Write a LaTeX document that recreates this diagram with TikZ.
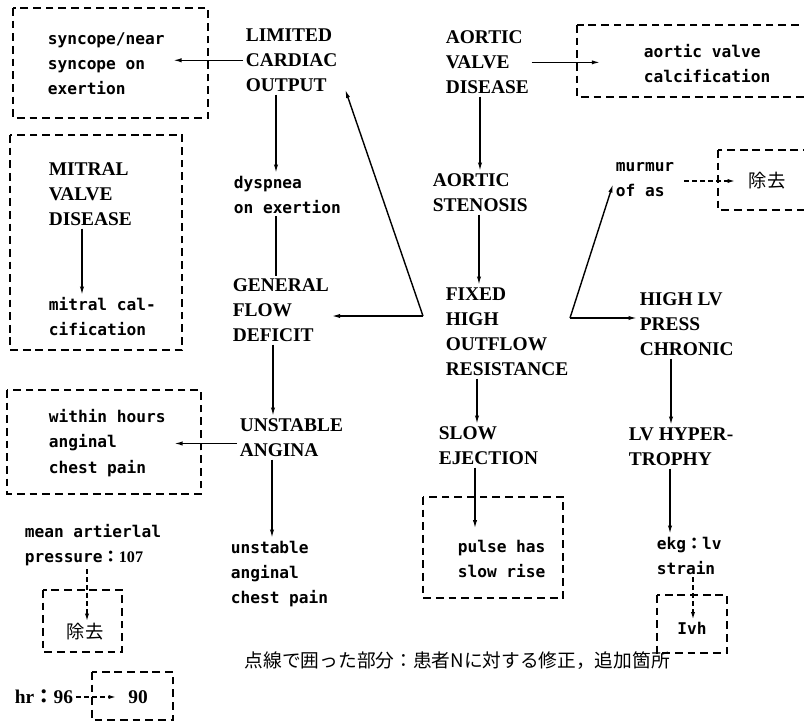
\documentclass[tikz,border=0pt]{standalone}
\usepackage{fontspec}
\usetikzlibrary{arrows.meta}
\newfontfamily\capfont{Liberation Serif}
\newfontfamily\notefont{DejaVu Sans Mono}
\newfontfamily\jpfont{Noto Sans CJK JP}
\tikzset{
  mainterm/.style={font=\capfont\bfseries\fontsize{13.8}{17.8}\selectfont, align=left, anchor=north west, inner sep=0pt, outer sep=2pt},
  finding/.style={font=\notefont\bfseries\fontsize{11.5}{17.8}\selectfont, align=left, anchor=north west, inner sep=0pt, outer sep=2pt},
  jptext/.style={font=\jpfont\fontsize{13}{16}\selectfont, inner sep=0pt, outer sep=2pt},
  fixbox/.style={line width=1.2pt, dash pattern=on 5.5pt off 3.5pt},
  link/.style={line width=1pt, -{Latex[length=6pt,width=3pt]}},
  dlink/.style={line width=0.8pt, dash pattern=on 3.5pt off 2.2pt, -{Latex[length=5pt,width=3pt]}}
}
\begin{document}
\begin{tikzpicture}[x=0.025cm, y=-0.025cm]
  \useasboundingbox (0,0) rectangle (804,723);
  % dashed boxes: corrections and additions for patient N
  \foreach \xa/\ya/\xb/\yb in {13/8/208/118, 10/135/182/350, 577/25/812/97, 718/150/812/210,
      7/390/201/494, 43/590/122/652, 92/672/173/720, 423/497/563/598, 657/595/727/653}
    \draw[fixbox] (\xa,\ya) rectangle (\xb,\yb);

  % main chain
  \node[mainterm] (lco) at (243,26) {LIMITED\\CARDIAC\\OUTPUT};
  \node[mainterm] (avd) at (443,28) {AORTIC\\VALVE\\DISEASE};
  \node[finding] (dys) at (231,173) {dyspnea\\on exertion};
  \node[mainterm] (ast) at (430,171) {AORTIC\\STENOSIS};
  \node[finding] (mur) at (613,160) {murmur\\of as};
  \node[mainterm] (gfd) at (230,276) {GENERAL\\FLOW\\DEFICIT};
  \node[mainterm] (fix) at (443,285) {FIXED\\HIGH\\OUTFLOW\\RESISTANCE};
  \node[mainterm] (hlv) at (637,290) {HIGH LV\\PRESS\\CHRONIC};
  \node[mainterm] (ua) at (237,416) {UNSTABLE\\ANGINA};
  \node[mainterm] (slow) at (436,424) {SLOW\\EJECTION};
  \node[mainterm] (lvh) at (626,425) {LV HYPER-\\TROPHY};
  \node[finding] (uacp) at (228,538) {unstable\\anginal\\chest pain};
  \node[finding] (map) at (22,522) {mean artierlal\\pressure{\jpfont ：}{\capfont 107}};
  \node[finding] (ekg) at (654,534) {ekg{\jpfont ：}lv\\strain};
  \node[mainterm, anchor=west] (hr) at (12,697) {hr{\jpfont ：}96};

  % boxed texts
  \node[finding] (sync) at (45,30) {syncope/near\\syncope on\\exertion};
  \node[mainterm] (mvd) at (46,160) {MITRAL\\VALVE\\DISEASE};
  \node[finding] (mcal) at (46,295) {mitral cal-\\cification};
  \node[finding] (avc) at (641,42) {aortic valve\\calcification};
  \node[jptext] (rm1) at (767,181) {除去};
  \node[finding] (wh) at (46,407) {within hours\\anginal\\chest pain};
  \node[jptext] (rm2) at (85,632) {除去};
  \node[mainterm, anchor=center] (n90) at (138,697) {90};
  \node[finding] (pulse) at (455,537) {pulse has\\slow rise};
  \node[finding, anchor=center] (lvhb) at (692,628) {Ivh};
  \node[jptext, anchor=west, font=\jpfont\fontsize{13.3}{16}\selectfont] (note) at (242,661)
    {点線で囲った部分：患者Nに対する修正，追加箇所};

  \coordinate (fl) at (423,316);
  \coordinate (fr) at (570,318);

  \draw[link] (lco.west) -- ([xshift=4pt]sync.east |- lco.west);
  \draw[link] (276,0 |- lco.south) -- (276,0 |- dys.north);
  \draw[line width=1pt] (276,0 |- dys.south) -- (276,0 |- gfd.north);
  \draw[link] (273,0 |- gfd.south) -- (273,0 |- ua.north);
  \draw[link] ([yshift=-4pt]ua.west) -- ([xshift=4pt,yshift=-4pt]wh.east |- ua.west);
  \draw[link] (272,0 |- ua.south) -- (272,0 |- uacp.north);
  \draw[link] (82,0 |- mvd.south) -- (82,0 |- mcal.north);
  \draw[link] (avd.east) -- ([xshift=-29pt]avc.west |- avd.east);
  \draw[link] (480,0 |- avd.south) -- (480,0 |- ast.north);
  \draw[link] (479,0 |- ast.south) -- (479,0 |- fix.north);
  \draw[link] (fl) -- ([shift={(5,-5)}]lco.south east);
  \draw[link] (fl) -- (gfd.east |- fl);
  \draw[link] (fr) -- ([yshift=-3pt]mur.west);
  \draw[link] (fr) -- (hlv.west |- fr);
  \draw[link] (477,0 |- fix.south) -- (477,0 |- slow.north);
  \draw[link] (475,0 |- slow.south) -- ([yshift=6pt]475,0 |- pulse.north);
  \draw[link] (671,0 |- hlv.south) -- (671,0 |- lvh.north);
  \draw[link] (670,0 |- lvh.south) -- (670,0 |- ekg.north);
  \draw[dlink] ([xshift=5pt]mur.east |- rm1) -- ([xshift=-8pt]rm1.west);
  \draw[dlink] (693,0 |- ekg.south) -- (693,0 |- lvhb.north);
  \draw[dlink] (87,0 |- map.south) -- (87,0 |- rm2.north);
  \draw[dlink] (hr.east) -- ([xshift=-7pt]n90.west);
\end{tikzpicture}
\end{document}
